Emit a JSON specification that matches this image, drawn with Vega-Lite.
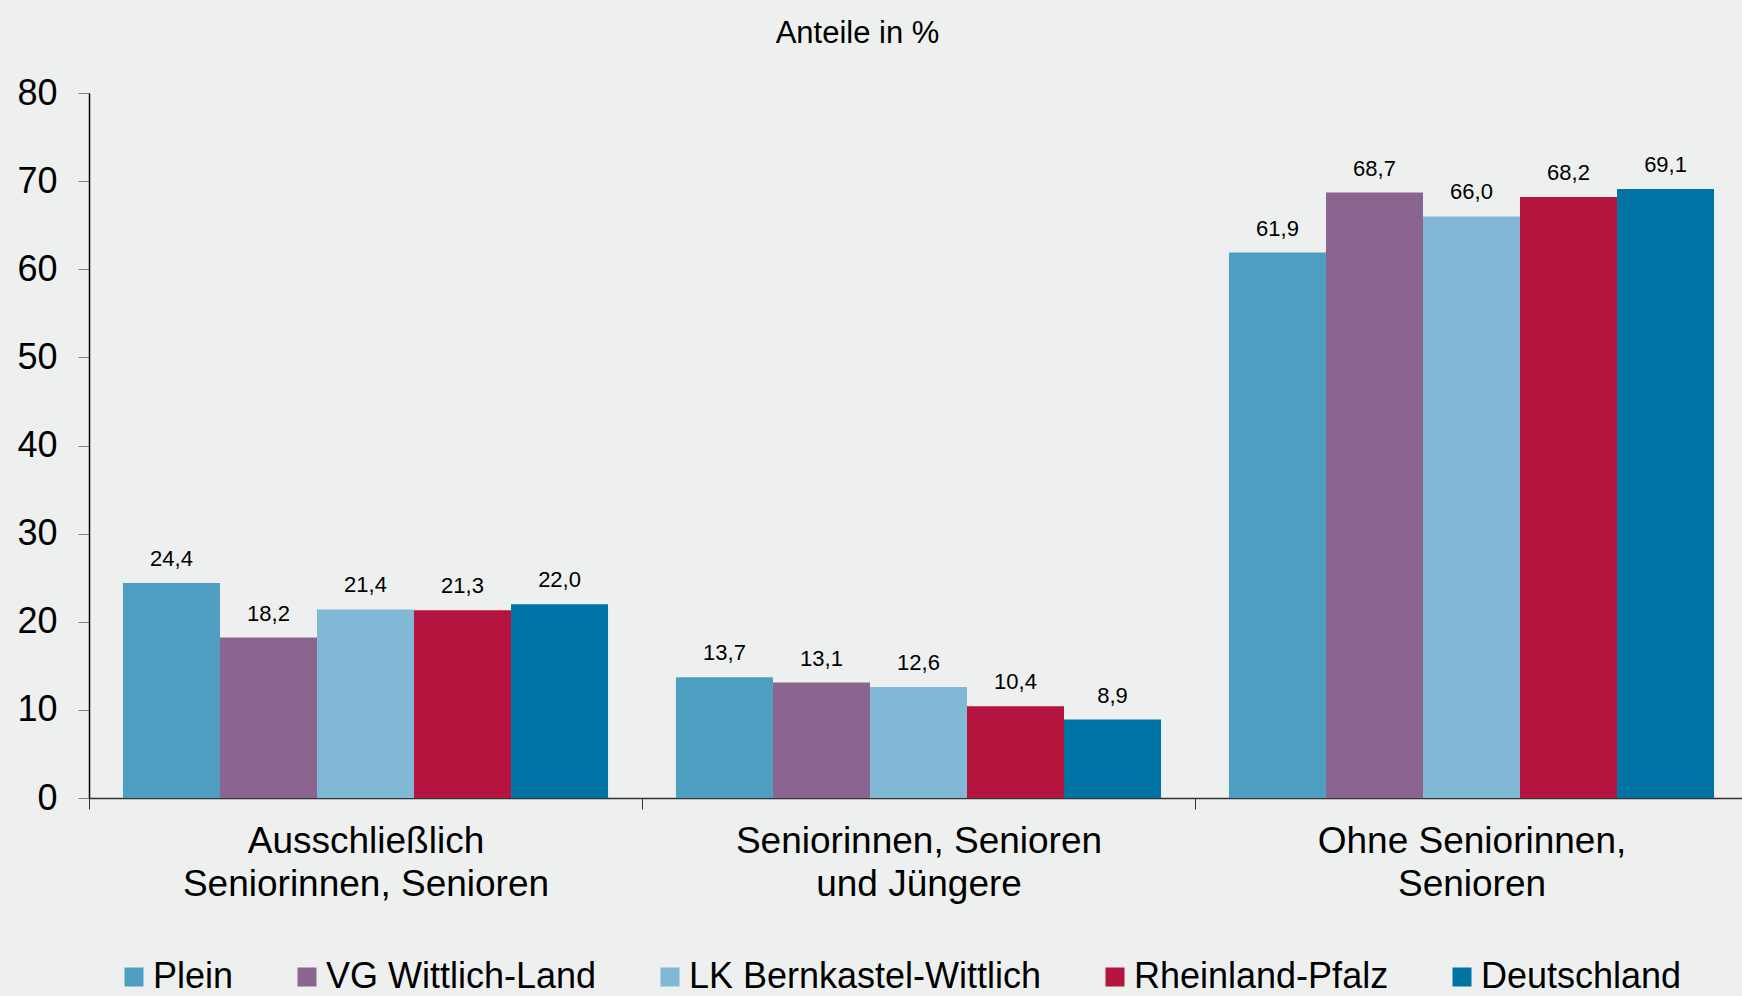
{
  "$schema": "https://vega.github.io/schema/vega-lite/v6.json",
  "autosize": {"type": "none"},
  "width": 1659,
  "height": 705,
  "padding": {"left": 89, "top": 93, "right": 0, "bottom": 198},
  "background": "#EEF0EF",
  "title": {
    "text": "Anteile in %",
    "fontSize": 31,
    "font": "Liberation Sans",
    "fontWeight": "normal",
    "color": "#000000",
    "anchor": "middle",
    "frame": "group",
    "baseline": "alphabetic",
    "dx": -61,
    "offset": 1
  },
  "config": {
    "view": {"stroke": null},
    "font": "Liberation Sans",
    "locale": {
      "number": {"decimal": ",", "thousands": ".", "grouping": [3], "currency": ["", " €"]}
    }
  },
  "data": {
    "values": [
      {"kategorie": "Ausschließlich|Seniorinnen, Senioren", "gebiet": "Plein", "anteil": 24.4},
      {"kategorie": "Ausschließlich|Seniorinnen, Senioren", "gebiet": "VG Wittlich-Land", "anteil": 18.2},
      {"kategorie": "Ausschließlich|Seniorinnen, Senioren", "gebiet": "LK Bernkastel-Wittlich", "anteil": 21.4},
      {"kategorie": "Ausschließlich|Seniorinnen, Senioren", "gebiet": "Rheinland-Pfalz", "anteil": 21.3},
      {"kategorie": "Ausschließlich|Seniorinnen, Senioren", "gebiet": "Deutschland", "anteil": 22.0},
      {"kategorie": "Seniorinnen, Senioren|und Jüngere", "gebiet": "Plein", "anteil": 13.7},
      {"kategorie": "Seniorinnen, Senioren|und Jüngere", "gebiet": "VG Wittlich-Land", "anteil": 13.1},
      {"kategorie": "Seniorinnen, Senioren|und Jüngere", "gebiet": "LK Bernkastel-Wittlich", "anteil": 12.6},
      {"kategorie": "Seniorinnen, Senioren|und Jüngere", "gebiet": "Rheinland-Pfalz", "anteil": 10.4},
      {"kategorie": "Seniorinnen, Senioren|und Jüngere", "gebiet": "Deutschland", "anteil": 8.9},
      {"kategorie": "Ohne Seniorinnen,|Senioren", "gebiet": "Plein", "anteil": 61.9},
      {"kategorie": "Ohne Seniorinnen,|Senioren", "gebiet": "VG Wittlich-Land", "anteil": 68.7},
      {"kategorie": "Ohne Seniorinnen,|Senioren", "gebiet": "LK Bernkastel-Wittlich", "anteil": 66.0},
      {"kategorie": "Ohne Seniorinnen,|Senioren", "gebiet": "Rheinland-Pfalz", "anteil": 68.2},
      {"kategorie": "Ohne Seniorinnen,|Senioren", "gebiet": "Deutschland", "anteil": 69.1}
    ]
  },
  "encoding": {
    "x": {
      "field": "kategorie",
      "type": "nominal",
      "sort": null,
      "scale": {"paddingInner": 0, "paddingOuter": 0},
      "axis": {
        "title": null,
        "labelAngle": 0,
        "labelExpr": "split(datum.label, '|')",
        "labelFontSize": 37,
        "labelLineHeight": 43,
        "labelLimit": 600,
        "labelColor": "#000000",
        "labelPadding": 14,
        "tickBand": "extent",
        "tickSize": 11,
        "tickColor": "#333333",
        "domainColor": "#333333",
        "domainWidth": 1.5
      }
    },
    "xOffset": {
      "field": "gebiet",
      "type": "nominal",
      "sort": ["Plein", "VG Wittlich-Land", "LK Bernkastel-Wittlich", "Rheinland-Pfalz", "Deutschland"],
      "scale": {"paddingInner": 0, "paddingOuter": 0.35}
    },
    "y": {
      "field": "anteil",
      "type": "quantitative",
      "scale": {"domain": [0, 80], "nice": false},
      "axis": {
        "title": null,
        "values": [0, 10, 20, 30, 40, 50, 60, 70, 80],
        "grid": false,
        "labelFontSize": 36,
        "labelColor": "#000000",
        "labelPadding": 21,
        "tickSize": 11,
        "tickColor": "#808080",
        "domainColor": "#000000",
        "domainWidth": 1.5
      }
    }
  },
  "layer": [
    {
      "mark": {"type": "bar"},
      "encoding": {
        "color": {
          "field": "gebiet",
          "type": "nominal",
          "sort": ["Plein", "VG Wittlich-Land", "LK Bernkastel-Wittlich", "Rheinland-Pfalz", "Deutschland"],
          "scale": {
            "domain": ["Plein", "VG Wittlich-Land", "LK Bernkastel-Wittlich", "Rheinland-Pfalz", "Deutschland"],
            "range": ["#4E9EC2", "#8B6590", "#81B8D5", "#B5143E", "#0073A5"]
          },
          "legend": {
            "title": null,
            "orient": "none",
            "direction": "horizontal",
            "columns": 5,
            "legendX": 27,
            "legendY": 866,
            "symbolType": "square",
            "symbolSize": 361,
            "symbolStrokeWidth": 0,
            "labelFontSize": 36,
            "labelColor": "#000000",
            "labelOffset": 1,
            "columnPadding": 55,
            "labelLimit": 600
          }
        }
      }
    },
    {
      "mark": {"type": "text", "baseline": "alphabetic", "dy": -17, "fontSize": 22, "color": "#000000"},
      "encoding": {
        "text": {"field": "anteil", "type": "quantitative", "format": ".1f"}
      }
    }
  ]
}
